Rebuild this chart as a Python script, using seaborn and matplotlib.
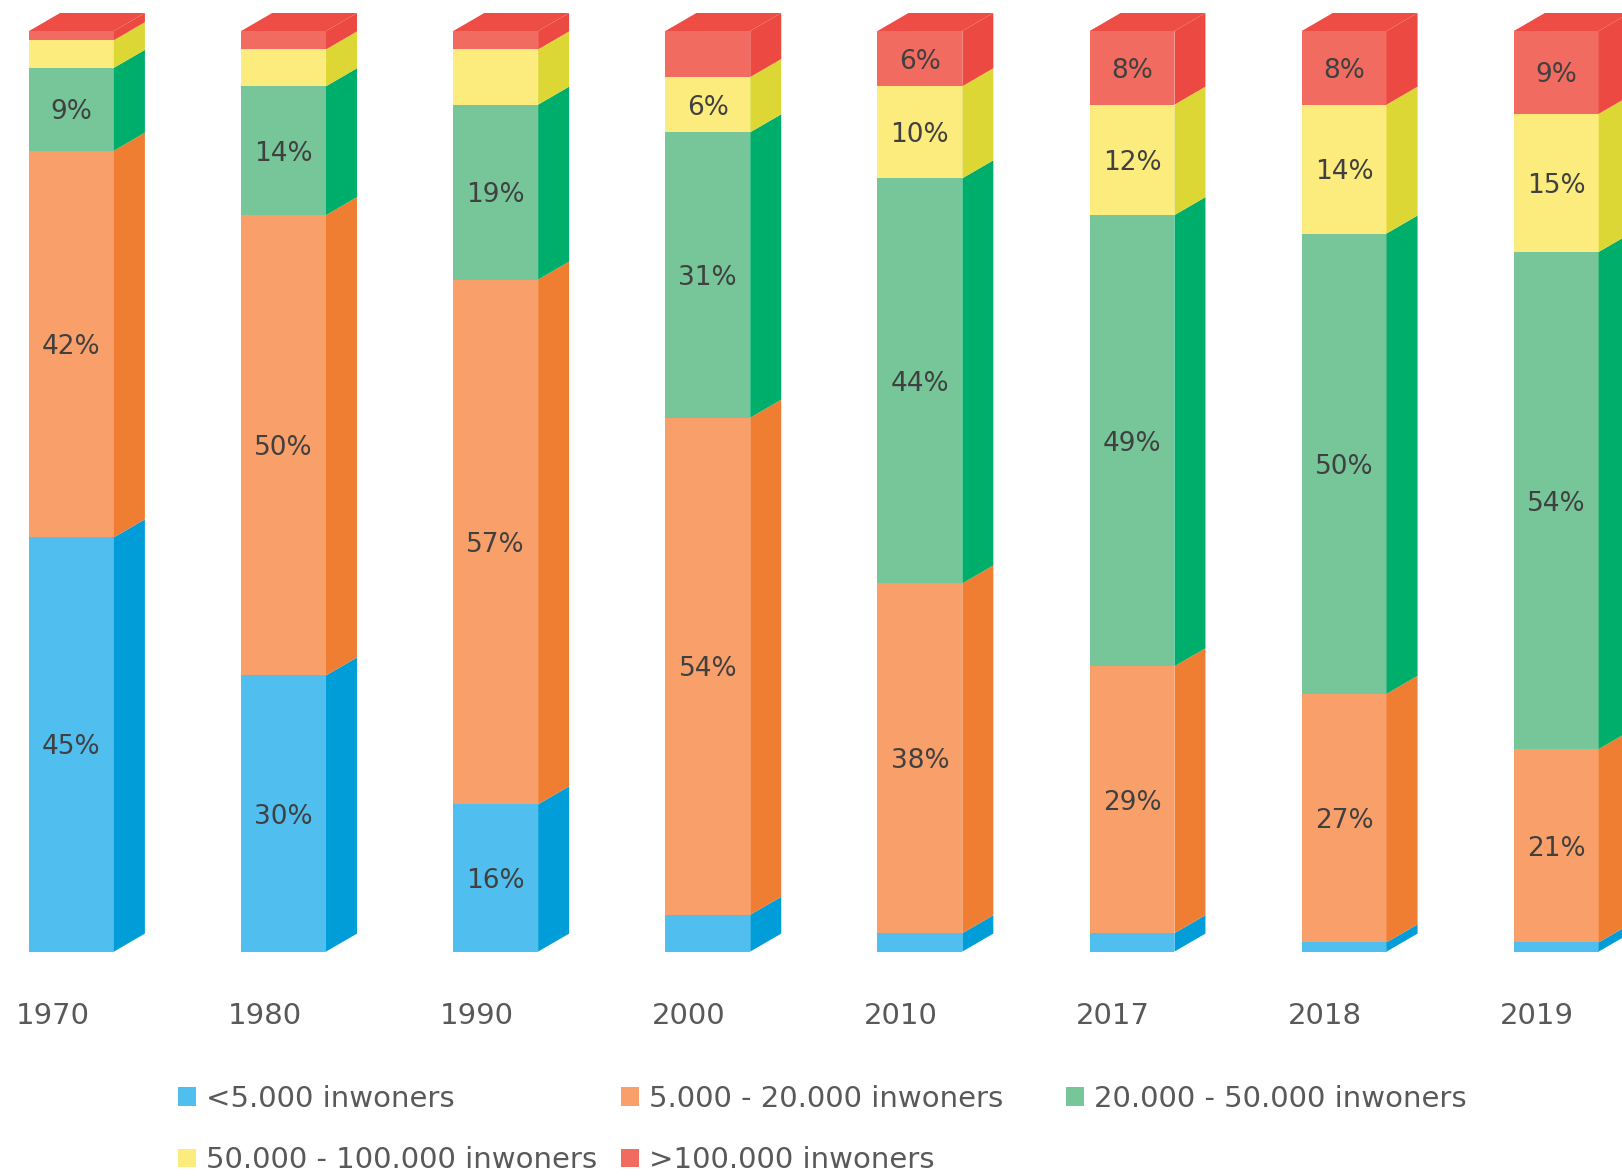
import numpy as np
import pandas as pd
import matplotlib
matplotlib.use("Agg")
import matplotlib.pyplot as plt
import seaborn as sns
from matplotlib.patches import Polygon, Patch

# ---------------- data ----------------
years = ["1970", "1980", "1990", "2000", "2010", "2017", "2018", "2019"]
series_names = ["<5.000 inwoners", "5.000 - 20.000 inwoners",
                "20.000 - 50.000 inwoners", "50.000 - 100.000 inwoners",
                ">100.000 inwoners"]
lt_5k = [45, 30, 16, 4, 2, 2, 1, 1]
k5_20k = [42, 50, 57, 54, 38, 29, 27, 21]
k20_50k = [9, 14, 19, 31, 44, 49, 50, 54]
k50_100k = [3, 4, 6, 6, 10, 12, 14, 15]
gt_100k = [1, 2, 2, 5, 6, 8, 8, 9]

# which data labels are shown in the original
show_lt_5k = [1, 1, 1, 0, 0, 0, 0, 0]
show_5_20k = [1, 1, 1, 1, 1, 1, 1, 1]
show_20_50k = [1, 1, 1, 1, 1, 1, 1, 1]
show_50_100k = [0, 0, 0, 1, 1, 1, 1, 1]
show_gt_100k = [0, 0, 0, 0, 1, 1, 1, 1]

# ---------------- style ----------------
front_cols = ["#50BEEE", "#F9A06A", "#76C69A", "#FCEC7E", "#F26B60"]
side_cols = ["#009DD9", "#EF7E33", "#00AE6B", "#DDD735", "#EC4942"]
top_col = "#EE4D46"
W, H = 1622, 1176
BAR_BOTTOM_PX = 951.6
BAR_TOP_PX = 31.0
DX_PX, DY_PX = 31.0, 18.0

sns.set_theme(style="white")
plt.rcParams['font.family'] = ['DejaVu Sans']

fig = plt.figure(figsize=(W / 100, H / 100), dpi=100)
ax = fig.add_axes([0, (H - BAR_BOTTOM_PX) / H, 1, (BAR_BOTTOM_PX - BAR_TOP_PX) / H])

values = np.array([lt_5k, k5_20k, k20_50k, k50_100k, gt_100k], dtype=float)
shows = np.array([show_lt_5k, show_5_20k, show_20_50k, show_50_100k, show_gt_100k])
cum = values.cumsum(axis=0)
bottoms = cum - values

# stacked front faces: draw cumulative totals from the top series downwards
patches_by_series = {}
for s in reversed(range(len(series_names))):
    n_before = len(ax.patches)
    df = pd.DataFrame({"year": years, "total": cum[s]})
    sns.barplot(data=df, x="year", y="total", order=years, color=front_cols[s],
                saturation=1, width=0.40, linewidth=0, errorbar=None, ax=ax, zorder=2)
    patches_by_series[s] = ax.patches[n_before:]

ax.set_xlim(-0.337, 7.310)
ax.set_ylim(0, 100)

# convert 3D depth offsets from pixels to data units
inv = ax.transData.inverted()
p0 = inv.transform((0, 0))
p1 = inv.transform((DX_PX, DY_PX))
dx, dy = p1[0] - p0[0], p1[1] - p0[1]

for s in range(len(series_names)):
    for i, p in enumerate(patches_by_series[s]):
        v = values[s, i]
        if v <= 0:
            continue
        x0, w = p.get_x(), p.get_width()
        y0, y1 = bottoms[s, i], cum[s, i]
        side = Polygon([(x0 + w, y0), (x0 + w, y1), (x0 + w + dx, y1 + dy), (x0 + w + dx, y0 + dy)],
                       closed=True, facecolor=side_cols[s], edgecolor="none",
                       clip_on=False, zorder=3)
        ax.add_patch(side)
        if s == len(series_names) - 1:
            top = Polygon([(x0, y1), (x0 + w, y1), (x0 + w + dx, y1 + dy), (x0 + dx, y1 + dy)],
                          closed=True, facecolor=top_col, edgecolor="none",
                          clip_on=False, zorder=3)
            ax.add_patch(top)
        if shows[s, i]:
            ax.text(x0 + w / 2, (y0 + y1) / 2, f"{int(v)}%", ha="center",
                    va="center_baseline", fontsize=19, color="#404040", zorder=5)

# category labels
ax.set_xticks(np.arange(len(years)) - 0.09)
ax.set_xticklabels(years)
ax.tick_params(axis="x", length=0, pad=36, labelsize=21, labelcolor="#595959")
ax.set_yticks([])
ax.set_xlabel("")
ax.set_ylabel("")
for sp in ax.spines.values():
    sp.set_visible(False)
ax.patch.set_alpha(0)

# legend, laid out in 3 columns like the original
handles = [Patch(facecolor=c, edgecolor="none") for c in front_cols]
leg_kw = dict(frameon=False, borderpad=0, borderaxespad=0, handlelength=0.6,
              handleheight=0.6, handletextpad=0.35, labelspacing=1.15, fontsize=21,
              labelcolor="#595959", loc="center left")
row1_y = (H - 1096) / H
row2_y = (H - 1159) / H
cols = [([0, 3], 178), ([1, 4], 621), ([2], 1066)]
for idxs, xpx in cols:
    yc = (row1_y + row2_y) / 2 - 2 / H if len(idxs) == 2 else row1_y - 3 / H
    fig.legend([handles[k] for k in idxs], [series_names[k] for k in idxs],
               bbox_to_anchor=(xpx / W, yc), **leg_kw)

fig.savefig("out.png", dpi=100)
